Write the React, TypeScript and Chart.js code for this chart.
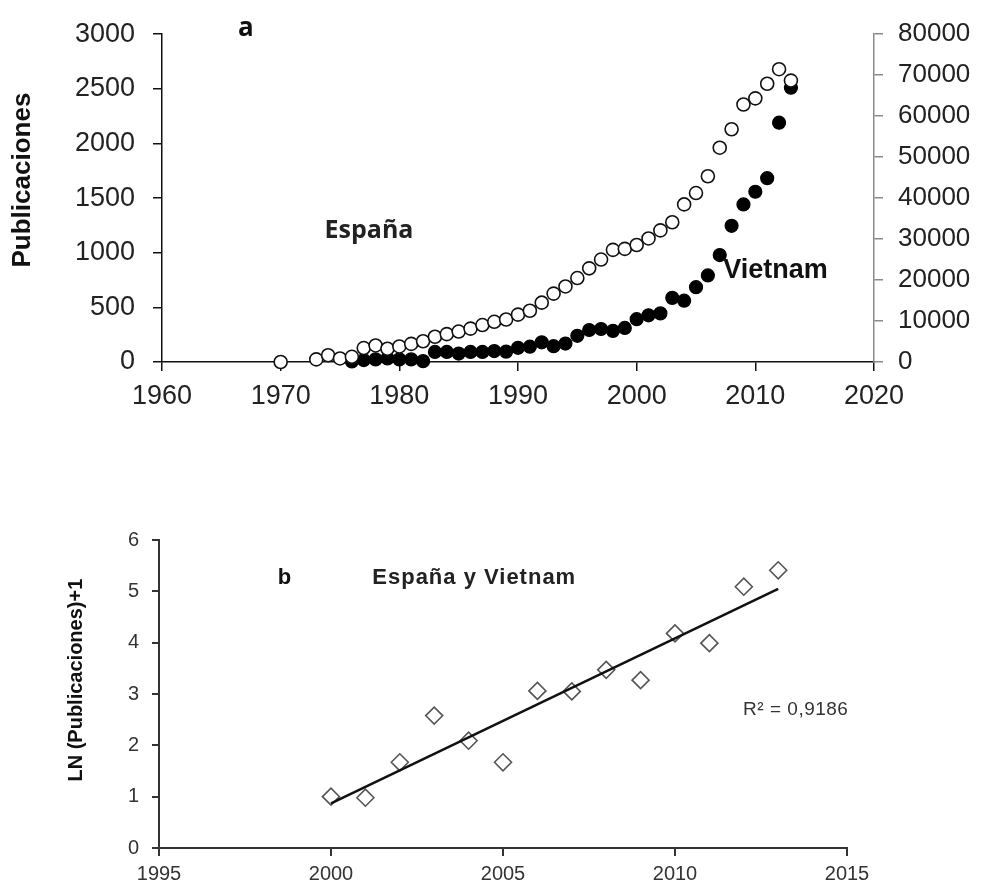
import React, { useEffect, useRef } from "react";
import { Chart, registerables } from "chart.js";

Chart.register(...registerables);

// ---------- Panel a data ----------
const espanaYears = [1970, 1973, 1974, 1975, 1976, 1977, 1978, 1979, 1980, 1981, 1982, 1983, 1984, 1985, 1986, 1987, 1988, 1989, 1990, 1991, 1992, 1993, 1994, 1995, 1996, 1997, 1998, 1999, 2000, 2001, 2002, 2003, 2004, 2005, 2006, 2007, 2008, 2009, 2010, 2011, 2012, 2013];
const espanaValues = [0, 640, 1660, 870, 1270, 3400, 4040, 3250, 3800, 4430, 5060, 6170, 6800, 7430, 8150, 9020, 9810, 10370, 11560, 12500, 14480, 16690, 18440, 20490, 22860, 25000, 27370, 27610, 28560, 30150, 32120, 34110, 38460, 41230, 45340, 52300, 56810, 62840, 64340, 67900, 71460, 68680];

const vietnamYears = [1976, 1977, 1978, 1979, 1980, 1981, 1982, 1983, 1984, 1985, 1986, 1987, 1988, 1989, 1990, 1991, 1992, 1993, 1994, 1995, 1996, 1997, 1998, 1999, 2000, 2001, 2002, 2003, 2004, 2005, 2006, 2007, 2008, 2009, 2010, 2011, 2012, 2013];
const vietnamValues = [5, 18, 24, 33, 24, 24, 8, 92, 92, 77, 92, 92, 100, 95, 130, 140, 180, 145, 169, 240, 293, 302, 285, 312, 392, 427, 445, 587, 561, 685, 792, 979, 1246, 1442, 1558, 1682, 2190, 2510];

// ---------- Panel b data ----------
const lnYears = [2000, 2001, 2002, 2003, 2004, 2005, 2006, 2007, 2008, 2009, 2010, 2011, 2012, 2013];
const lnValues = [1.0, 0.98, 1.67, 2.58, 2.09, 1.67, 3.06, 3.05, 3.47, 3.27, 4.18, 3.99, 5.09, 5.41];
const trendYears = [2000, 2013];
const trendValues = [0.87, 5.05];

const FONT = "'Liberation Sans', Arial, sans-serif";

type Note = { text: string; x: number; y: number; axis: string; font: string; color: string; spacing?: string };
type AxisTitle = { text: string; offset: number; y: number; font: string; color: string };

function notesPlugin(id: string, notes: Note[], title: AxisTitle) {
  return {
    id,
    afterDraw(chart: any) {
      const ctx = chart.ctx;
      notes.forEach((n) => {
        const px = chart.scales.x.getPixelForValue(n.x);
        const py = chart.scales[n.axis].getPixelForValue(n.y);
        ctx.save();
        ctx.font = n.font;
        ctx.fillStyle = n.color;
        ctx.textAlign = "left";
        ctx.textBaseline = "middle";
        if (n.spacing) (ctx as any).letterSpacing = n.spacing;
        ctx.fillText(n.text, px, py);
        ctx.restore();
      });
      // rotated y-axis title
      const ys = chart.scales.y;
      ctx.save();
      ctx.translate(ys.left + title.offset, ys.getPixelForValue(title.y));
      ctx.rotate(-Math.PI / 2);
      ctx.font = title.font;
      ctx.fillStyle = title.color;
      ctx.textAlign = "center";
      ctx.textBaseline = "middle";
      ctx.fillText(title.text, 0, 0);
      ctx.restore();
    },
  };
}

const notesA: Note[] = [
  { text: "a", x: 1966.4, y: 3050, axis: "y", font: `bold 26px 'Open Sans', sans-serif`, color: "#111" },
  { text: "España", x: 1973.7, y: 1200, axis: "y", font: `bold 25px 'Open Sans', sans-serif`, color: "#222" },
  { text: "Vietnam", x: 2007.3, y: 840, axis: "y", font: `bold 27px ${FONT}`, color: "#111" },
];
const titleA: AxisTitle = { text: "Publicaciones", offset: 23, y: 1665, font: `bold 26px ${FONT}`, color: "#111" };

const notesB: Note[] = [
  { text: "b", x: 1998.45, y: 5.26, axis: "y", font: `bold 22px ${FONT}`, color: "#111" },
  { text: "España y Vietnam", x: 2001.2, y: 5.26, axis: "y", font: `bold 22px ${FONT}`, color: "#222", spacing: "1px" },
  { text: "R² = 0,9186", x: 2011.98, y: 2.69, axis: "y", font: `19px ${FONT}`, color: "#333", spacing: "0.5px" },
];
const titleB: AxisTitle = { text: "LN (Publicaciones)+1", offset: 76, y: 3.27, font: `bold 20px ${FONT}`, color: "#111" };

const intLabel = (v: any) => String(v);

function ChartA() {
  const ref = useRef<HTMLCanvasElement>(null);
  useEffect(() => {
    const chart = new Chart(ref.current!, {
      type: "scatter",
      data: {
        datasets: [
          {
            label: "España",
            data: espanaYears.map((x, i) => ({ x, y: espanaValues[i] })),
            yAxisID: "y2",
            pointStyle: "circle",
            pointRadius: 6.5,
            pointBackgroundColor: "#ffffff",
            pointBorderColor: "#111",
            pointBorderWidth: 1.6,
            clip: false as any,
          },
          {
            label: "Vietnam",
            data: vietnamYears.map((x, i) => ({ x, y: vietnamValues[i] })),
            yAxisID: "y",
            pointStyle: "circle",
            pointRadius: 6.5,
            pointBackgroundColor: "#000",
            pointBorderColor: "#000",
            pointBorderWidth: 1.2,
            clip: false as any,
          },
        ],
      },
      options: {
        animation: false,
        responsive: false,
        layout: { padding: { top: 25, right: 0, left: 0, bottom: 0 } },
        plugins: { legend: { display: false }, tooltip: { enabled: false } },
        scales: {
          x: {
            type: "linear",
            min: 1960,
            max: 2020,
            ticks: { stepSize: 10, callback: intLabel, color: "#222", font: { family: FONT, size: 27 }, padding: 9, maxRotation: 0 },
            grid: { drawOnChartArea: false, color: "#111", lineWidth: 1.5, tickLength: 9 },
            border: { color: "#111", width: 1.5 },
            afterFit: (s: any) => { s.height = 58; },
          },
          y: {
            position: "left",
            min: 0,
            max: 3000,
            ticks: { stepSize: 500, callback: intLabel, color: "#222", font: { family: FONT, size: 27 }, padding: 18 },
            grid: { drawOnChartArea: false, color: "#111", lineWidth: 1.5, tickLength: 9 },
            border: { color: "#111", width: 1.5 },
            afterFit: (s: any) => { s.width = 162; },
          },
          y2: {
            position: "right",
            min: 0,
            max: 80000,
            ticks: { stepSize: 10000, callback: intLabel, color: "#222", font: { family: FONT, size: 26 }, padding: 15 },
            grid: { drawOnChartArea: false, color: "#8a8a8a", lineWidth: 1.5, tickLength: 9 },
            border: { color: "#8a8a8a", width: 1.5 },
            afterFit: (s: any) => { s.width = 107; },
          },
        },
      },
      plugins: [notesPlugin("notesA", notesA, titleA)],
    });
    return () => chart.destroy();
  }, []);
  return <canvas ref={ref} width={981} height={420} style={{ width: 981, height: 420, display: "block" }} />;
}

function ChartB() {
  const ref = useRef<HTMLCanvasElement>(null);
  useEffect(() => {
    const chart = new Chart(ref.current!, {
      type: "scatter",
      data: {
        datasets: [
          {
            type: "line",
            label: "Tendencia",
            data: trendYears.map((x, i) => ({ x, y: trendValues[i] })),
            borderColor: "#111",
            borderWidth: 2.5,
            pointRadius: 0,
            fill: false,
            showLine: true,
          } as any,
          {
            label: "LN (Publicaciones)+1",
            data: lnYears.map((x, i) => ({ x, y: lnValues[i] })),
            pointStyle: "rectRot",
            pointRadius: 8.5,
            pointBackgroundColor: "rgba(255,255,255,0)",
            pointBorderColor: "#555",
            pointBorderWidth: 1.6,
            clip: false as any,
          },
        ],
      },
      options: {
        animation: false,
        responsive: false,
        layout: { padding: { top: 40, right: 134, left: 0, bottom: 0 } },
        plugins: { legend: { display: false }, tooltip: { enabled: false } },
        scales: {
          x: {
            type: "linear",
            min: 1995,
            max: 2015,
            ticks: { stepSize: 5, callback: intLabel, color: "#333", font: { family: FONT, size: 20 }, padding: 6, maxRotation: 0 },
            grid: { drawOnChartArea: false, color: "#333", lineWidth: 2, tickLength: 8 },
            border: { color: "#333", width: 2 },
            afterFit: (s: any) => { s.height = 36; },
          },
          y: {
            position: "left",
            min: 0,
            max: 6,
            ticks: { stepSize: 1, callback: intLabel, color: "#333", font: { family: FONT, size: 20 }, padding: 13 },
            grid: { drawOnChartArea: false, color: "#333", lineWidth: 2, tickLength: 7 },
            border: { color: "#333", width: 2 },
            afterFit: (s: any) => { s.width = 159; },
          },
        },
      },
      plugins: [notesPlugin("notesB", notesB, titleB)],
    });
    return () => chart.destroy();
  }, []);
  return <canvas ref={ref} width={981} height={384} style={{ width: 981, height: 384, display: "block" }} />;
}

export default function App() {
  return (
    <div style={{ position: "absolute", left: 0, top: 0, width: 981, height: 884, background: "#fff" }}>
      <div style={{ position: "absolute", left: 0, top: 0 }}>
        <ChartA />
      </div>
      <div style={{ position: "absolute", left: 0, top: 500 }}>
        <ChartB />
      </div>
    </div>
  );
}
